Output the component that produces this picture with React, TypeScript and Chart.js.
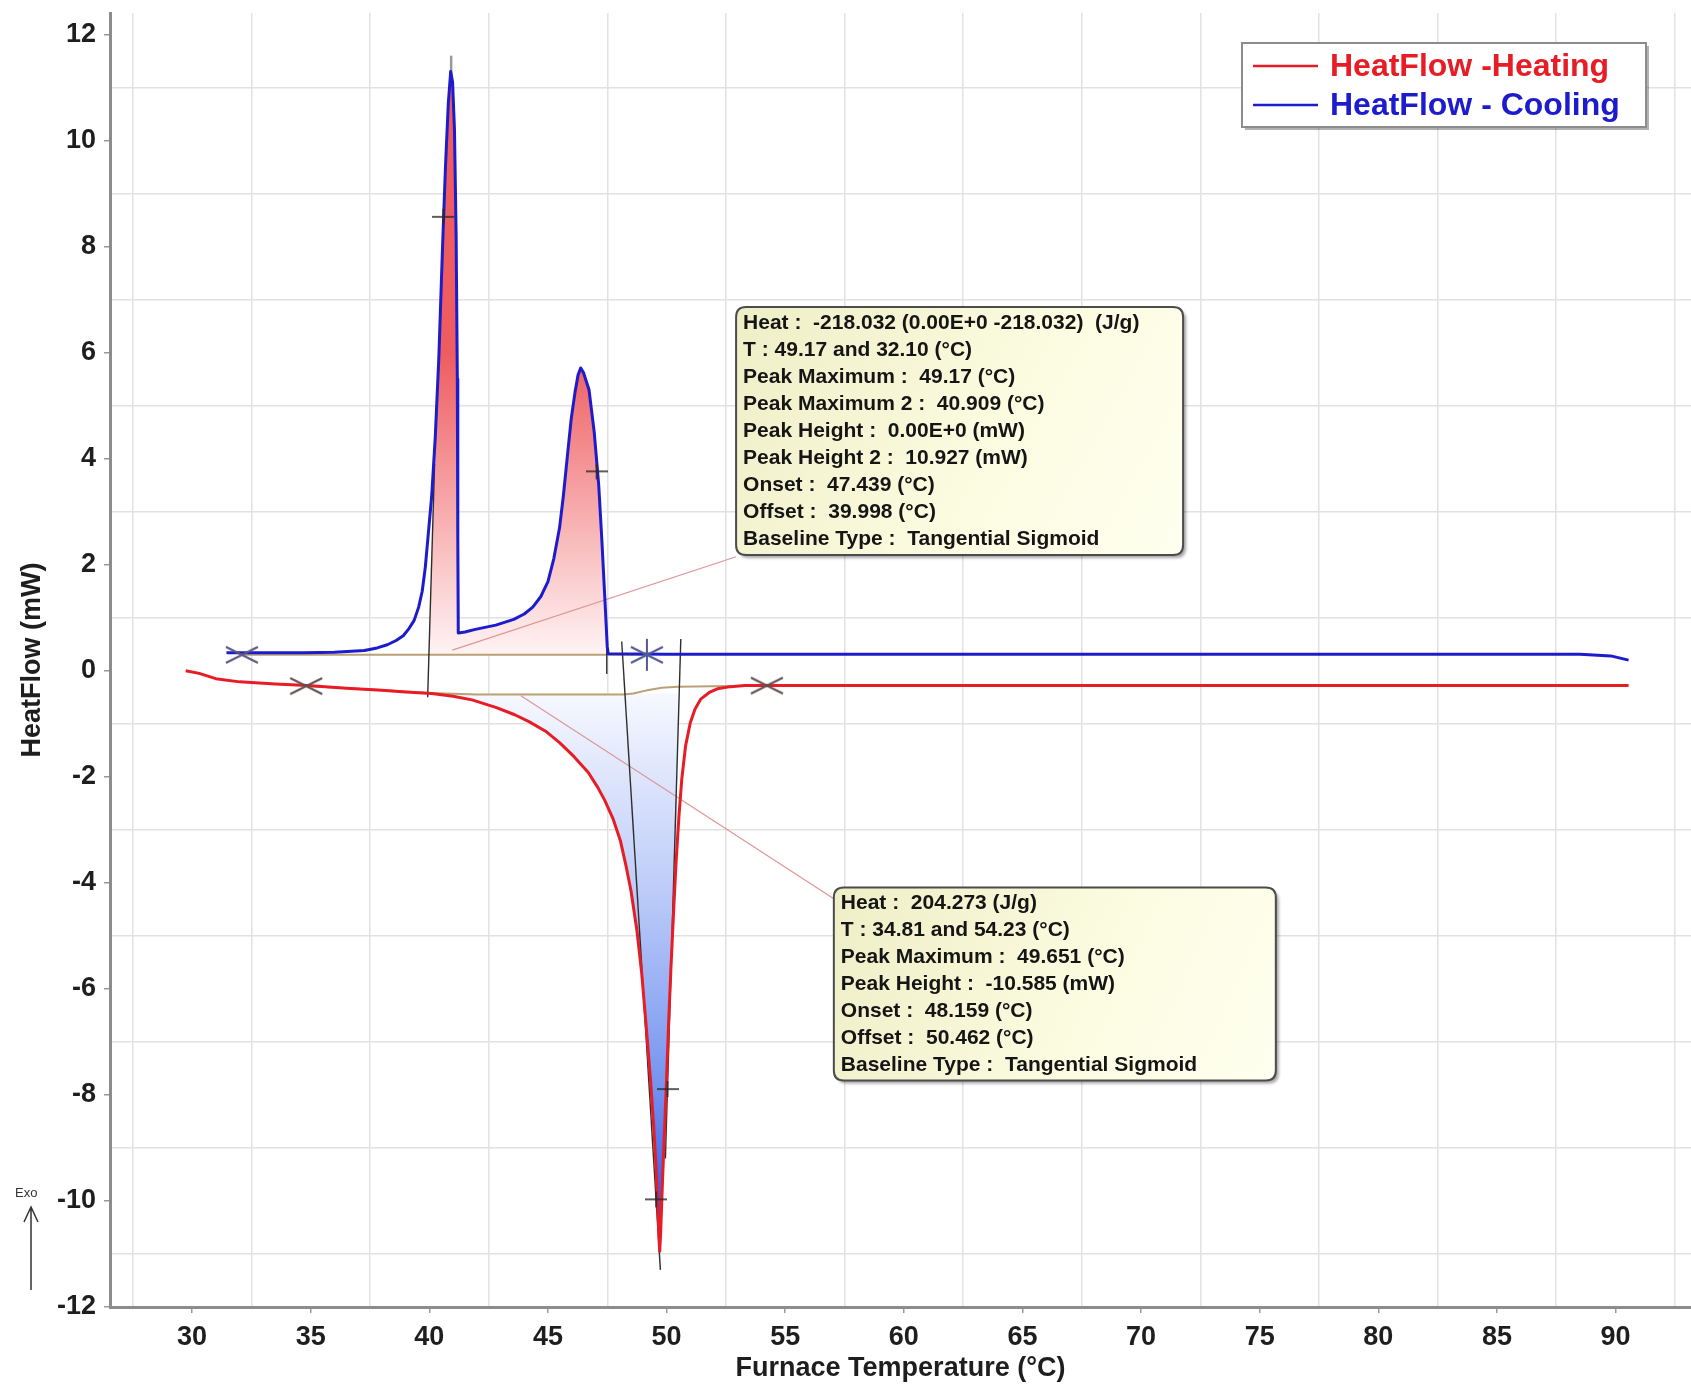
import React, { useEffect, useRef } from 'react';
import { Chart, registerables } from 'chart.js';

Chart.register(...registerables);

// ---------------- data ----------------
const X_LABEL_TICKS = [30, 35, 40, 45, 50, 55, 60, 65, 70, 75, 80, 85, 90];
const X_GRID_TICKS = [27.5, 32.5, 37.5, 42.5, 47.5, 52.5, 57.5, 62.5, 67.5, 72.5, 77.5, 82.5, 87.5, 92.5];
const Y_LABEL_TICKS = [-12, -10, -8, -6, -4, -2, 0, 2, 4, 6, 8, 10, 12];
const Y_GRID_TICKS = [-11, -9, -7, -5, -3, -1, 1, 3, 5, 7, 9, 11];
const X_RANGE = [26.54, 93.18];
const Y_RANGE = [-12, 12.405];

const X_TITLE = 'Furnace Temperature (°C)';
const Y_TITLE = 'HeatFlow (mW)';
const SERIES_LABELS = ['HeatFlow -Heating', 'HeatFlow - Cooling'];

const HEATING: [number, number][] = [
  [29.73, 0.0], [30.3, -0.05], [31.0, -0.15], [32.0, -0.21], [33.5, -0.25], [34.86, -0.28],
  [36.5, -0.33], [38.0, -0.37], [39.0, -0.4], [40.1, -0.43], [41.0, -0.48], [41.8, -0.55],
  [42.8, -0.69], [43.6, -0.83], [44.2, -0.96], [44.9, -1.14], [45.5, -1.36], [46.1, -1.62],
  [46.7, -1.92], [47.1, -2.2], [47.4, -2.45], [47.75, -2.8], [48.05, -3.2], [48.3, -3.7],
  [48.5, -4.15], [48.75, -4.9], [48.95, -5.7], [49.15, -6.75], [49.32, -7.7], [49.45, -8.55],
  [49.55, -9.3], [49.62, -10.0], [49.68, -10.7], [49.71, -10.95], [49.75, -10.6], [49.82, -9.72],
  [49.91, -8.7], [50.0, -7.69], [50.09, -6.6], [50.18, -5.65], [50.3, -4.5], [50.4, -3.62],
  [50.52, -2.75], [50.64, -2.05], [50.8, -1.42], [51.0, -0.98], [51.2, -0.72], [51.45, -0.53],
  [51.8, -0.41], [52.14, -0.34], [52.7, -0.3], [53.3, -0.28], [60, -0.28], [70, -0.28],
  [80, -0.28], [90.55, -0.28],
];

const COOLING: [number, number][] = [
  [31.45, 0.34], [33, 0.34], [34.7, 0.34], [36, 0.35], [37.26, 0.38], [37.8, 0.43],
  [38.23, 0.49], [38.6, 0.57], [38.9, 0.66], [39.15, 0.8], [39.36, 0.95], [39.55, 1.2],
  [39.7, 1.5], [39.83, 1.95], [39.95, 2.55], [40.1, 3.3], [40.25, 4.4], [40.4, 5.9],
  [40.55, 7.9], [40.68, 9.5], [40.8, 10.7], [40.9, 11.3], [40.98, 11.1], [41.06, 10.2],
  [41.13, 8.2], [41.18, 5.5], [41.2, 2.5], [41.22, 0.71], [41.5, 0.73], [41.94, 0.78],
  [42.8, 0.86], [43.56, 0.97], [44.0, 1.07], [44.36, 1.2], [44.7, 1.4], [45.0, 1.68],
  [45.25, 2.12], [45.49, 2.7], [45.65, 3.3], [45.83, 4.1], [45.98, 4.75], [46.14, 5.25],
  [46.27, 5.58], [46.38, 5.71], [46.5, 5.62], [46.73, 5.3], [46.95, 4.5], [47.14, 3.5],
  [47.27, 2.48], [47.41, 1.26], [47.5, 0.45], [47.54, 0.32], [50, 0.31], [60, 0.31],
  [70, 0.31], [80, 0.31], [88.5, 0.31], [89.8, 0.28], [90.55, 0.2],
];

const HEATING_BASELINE: [number, number][] = [
  [34.81, -0.29], [37, -0.34], [40, -0.42], [42, -0.45], [48.16, -0.45], [48.6, -0.43],
  [49.17, -0.37], [49.8, -0.32], [50.46, -0.3], [54.23, -0.28],
];
const COOLING_BASELINE: [number, number][] = [[32.1, 0.3], [49.17, 0.3]];

const TANGENT_LINES: [number, number][][] = [
  [[39.93, -0.5], [40.22, 3.9]],
  [[47.48, 0.55], [47.48, -0.05]],
  [[48.11, 0.55], [49.74, -11.3]],
  [[50.6, 0.6], [49.95, -9.2]],
];
const PEAK_TIP: [number, number][] = [[40.92, 11.15], [40.92, 11.6]];
const LEADER_LINES: [number, number][][] = [
  [[40.97, 0.39], [52.93, 2.15]],
  [[43.86, -0.47], [57.05, -4.3]],
];

const LIMIT_MARKS_COOLING: [number, number][] = [[32.1, 0.3]];
const LIMIT_MARKS_HEATING: [number, number][] = [[34.81, -0.29], [54.23, -0.28]];
const PEAK_MARK: [number, number][] = [[49.17, 0.3]];
const CROSS_MARKS: [number, number][] = [[40.59, 8.56], [47.05, 3.76], [49.56, -9.97], [50.04, -7.89]];

const COOLING_FILL_EDGES: [number, number][] = [[40.0, 0.3], [47.54, 0.3]];
const HEATING_FILL_EDGES: [number, number][] = [[40.1, -0.43], [50.5, -0.3]];

const COOLING_BOX_ANCHOR = [52.93, 6.86];
const HEATING_BOX_ANCHOR = [57.05, -4.09];
const COOLING_BOX_LINES = [
  'Heat :  -218.032 (0.00E+0 -218.032)  (J/g)',
  'T : 49.17 and 32.10 (°C)',
  'Peak Maximum :  49.17 (°C)',
  'Peak Maximum 2 :  40.909 (°C)',
  'Peak Height :  0.00E+0 (mW)',
  'Peak Height 2 :  10.927 (mW)',
  'Onset :  47.439 (°C)',
  'Offset :  39.998 (°C)',
  'Baseline Type :  Tangential Sigmoid',
];
const HEATING_BOX_LINES = [
  'Heat :  204.273 (J/g)',
  'T : 34.81 and 54.23 (°C)',
  'Peak Maximum :  49.651 (°C)',
  'Peak Height :  -10.585 (mW)',
  'Onset :  48.159 (°C)',
  'Offset :  50.462 (°C)',
  'Baseline Type :  Tangential Sigmoid',
];

// ---------------- styles ----------------
const FONT = '"Liberation Sans", Arial, Helvetica, sans-serif';
const RED = 'rgb(232,28,36)';
const BLUE = 'rgb(28,28,205)';
const TAN = 'rgb(186,160,118)';
const W = 1691;
const H = 1386;

const pts = (a: [number, number][]) => a.map(([x, y]) => ({ x, y }));

function lineDs(label: string, data: [number, number][], color: string, width: number, extra: any = {}) {
  return {
    label,
    data: pts(data),
    borderColor: color,
    backgroundColor: color,
    borderWidth: width,
    pointRadius: 0,
    fill: false,
    tension: 0,
    borderJoinStyle: 'round',
    borderCapStyle: 'butt',
    ...extra,
  };
}

function vGradient(chart: any, v0: number, v1: number, stops: [number, string][]) {
  const { ctx, chartArea, scales } = chart;
  if (!chartArea || !scales.y) return stops[stops.length - 1][1];
  const p0 = scales.y.getPixelForValue(v0);
  const p1 = scales.y.getPixelForValue(v1);
  const g = ctx.createLinearGradient(0, p0, 0, p1);
  stops.forEach(([o, c]) => g.addColorStop(o, c));
  return g;
}

function makeMark(kind: 'x' | 'star' | 'plus', color: string) {
  const c = document.createElement('canvas');
  const w = kind === 'plus' ? 22 : 36;
  const h = kind === 'x' ? 20 : kind === 'star' ? 34 : 18;
  c.width = w;
  c.height = h;
  const g = c.getContext('2d')!;
  g.strokeStyle = color;
  g.lineWidth = kind === 'plus' ? 1.6 : 2;
  g.beginPath();
  if (kind === 'x') {
    g.moveTo(2, 2); g.lineTo(w - 2, h - 2);
    g.moveTo(2, h - 2); g.lineTo(w - 2, 2);
  } else if (kind === 'star') {
    g.moveTo(w / 2, 1); g.lineTo(w / 2, h - 1);
    g.moveTo(2, h / 2 - 8); g.lineTo(w - 2, h / 2 + 8);
    g.moveTo(2, h / 2 + 8); g.lineTo(w - 2, h / 2 - 8);
  } else {
    g.moveTo(0, h / 2); g.lineTo(w, h / 2);
    g.moveTo(w / 2, 1); g.lineTo(w / 2, h - 1);
  }
  g.stroke();
  return c;
}

function roundRect(ctx: CanvasRenderingContext2D, x: number, y: number, w: number, h: number, r: number) {
  ctx.beginPath();
  ctx.moveTo(x + r, y);
  ctx.lineTo(x + w - r, y);
  ctx.quadraticCurveTo(x + w, y, x + w, y + r);
  ctx.lineTo(x + w, y + h - r);
  ctx.quadraticCurveTo(x + w, y + h, x + w - r, y + h);
  ctx.lineTo(x + r, y + h);
  ctx.quadraticCurveTo(x, y + h, x, y + h - r);
  ctx.lineTo(x, y + r);
  ctx.quadraticCurveTo(x, y, x + r, y);
  ctx.closePath();
}

function drawInfoBox(ctx: CanvasRenderingContext2D, x: number, y: number, w: number, h: number, lines: string[]) {
  ctx.save();
  ctx.shadowColor = 'rgba(0,0,0,0.35)';
  ctx.shadowOffsetX = 3;
  ctx.shadowOffsetY = 3;
  ctx.shadowBlur = 3;
  roundRect(ctx, x, y, w, h, 10);
  const g = ctx.createLinearGradient(x, y, x + w, y + h);
  g.addColorStop(0, 'rgb(238,238,198)');
  g.addColorStop(0.6, 'rgb(252,252,226)');
  g.addColorStop(1, 'rgb(255,255,240)');
  ctx.fillStyle = g;
  ctx.fill();
  ctx.shadowColor = 'rgba(0,0,0,0)';
  ctx.lineWidth = 2;
  ctx.strokeStyle = '#4c4c4c';
  ctx.stroke();
  ctx.fillStyle = '#151515';
  ctx.font = `bold 21px ${FONT}`;
  ctx.textBaseline = 'middle';
  ctx.textAlign = 'left';
  lines.forEach((t, i) => ctx.fillText(t, x + 7, y + 16 + i * 27));
  ctx.restore();
}

const overlayPlugin = {
  id: 'overlay',
  afterDraw(chart: any) {
    const { ctx, scales, chartArea } = chart;
    const xs = scales.x;
    const ys = scales.y;
    // info boxes
    drawInfoBox(ctx, xs.getPixelForValue(COOLING_BOX_ANCHOR[0]), ys.getPixelForValue(COOLING_BOX_ANCHOR[1]), 447, 248, COOLING_BOX_LINES);
    drawInfoBox(ctx, xs.getPixelForValue(HEATING_BOX_ANCHOR[0]), ys.getPixelForValue(HEATING_BOX_ANCHOR[1]), 442, 193, HEATING_BOX_LINES);

    // legend
    const lw = 404, lh = 84;
    const lx = chartArea.right - 45 - lw;
    const ly = chartArea.top + 30;
    ctx.save();
    ctx.fillStyle = 'rgba(0,0,0,0.3)';
    ctx.fillRect(lx + 3, ly + 3, lw, lh);
    ctx.fillStyle = '#ffffff';
    ctx.fillRect(lx, ly, lw, lh);
    ctx.strokeStyle = '#8c8c8c';
    ctx.lineWidth = 2;
    ctx.strokeRect(lx, ly, lw, lh);
    const items = [
      { label: chart.data.datasets[5].label, color: chart.data.datasets[5].borderColor, y: ly + 23 },
      { label: chart.data.datasets[4].label, color: chart.data.datasets[4].borderColor, y: ly + 62 },
    ];
    ctx.font = `bold 32px ${FONT}`;
    ctx.textBaseline = 'middle';
    items.forEach((it) => {
      ctx.strokeStyle = it.color;
      ctx.lineWidth = 2.5;
      ctx.beginPath();
      ctx.moveTo(lx + 11, it.y);
      ctx.lineTo(lx + 76, it.y);
      ctx.stroke();
      ctx.fillStyle = it.color;
      ctx.fillText(it.label, lx + 88, it.y + 1);
    });
    ctx.restore();

    // Exo arrow
    ctx.save();
    ctx.fillStyle = '#333';
    ctx.font = `13px ${FONT}`;
    ctx.textBaseline = 'middle';
    ctx.fillText('Exo', 15, 1193);
    ctx.strokeStyle = '#333';
    ctx.lineWidth = 1.5;
    ctx.beginPath();
    ctx.moveTo(31, 1290);
    ctx.lineTo(31, 1207);
    ctx.moveTo(24, 1222);
    ctx.lineTo(31, 1207);
    ctx.lineTo(38, 1222);
    ctx.stroke();
    ctx.restore();
  },
};

const zeroPadding = (s: any) => {
  s.paddingTop = 0;
  s.paddingBottom = 0;
  s.paddingLeft = 0;
  s.paddingRight = 0;
};

export default function App() {
  const ref = useRef<HTMLCanvasElement | null>(null);

  useEffect(() => {
    document.body.style.margin = '0';
    const canvas = ref.current;
    if (!canvas) return;

    const markX_blue = makeMark('x', 'rgb(90,90,130)');
    const markX_red = makeMark('x', 'rgb(100,80,80)');
    const markStar = makeMark('star', 'rgb(80,90,150)');
    const markPlus = makeMark('plus', '#2a2a2a');

    const markDs = (label: string, data: [number, number][], style: any) => ({
      label,
      data: pts(data),
      showLine: false,
      pointRadius: 6,
      pointHoverRadius: 6,
      pointStyle: style,
      borderColor: '#333',
      backgroundColor: '#333',
    });

    const coolingFill = [COOLING_FILL_EDGES[0], ...COOLING.filter(([x]) => x >= 40.2 && x <= 47.5), COOLING_FILL_EDGES[1]];
    const heatingFill = [HEATING_FILL_EDGES[0], ...HEATING.filter(([x]) => x > 40.1 && x < 50.5), HEATING_FILL_EDGES[1]];

    const datasets: any[] = [
      markDs('cross', CROSS_MARKS, markPlus),
      markDs('peak', PEAK_MARK, markStar),
      markDs('limits cooling', LIMIT_MARKS_COOLING, markX_blue),
      markDs('limits heating', LIMIT_MARKS_HEATING, markX_red),
      lineDs(SERIES_LABELS[1], COOLING, BLUE, 3),
      lineDs(SERIES_LABELS[0], HEATING, RED, 3),
      ...TANGENT_LINES.map((l, i) => lineDs('tangent ' + i, l, '#2e2e2e', 1.4)),
      lineDs('peak tip', PEAK_TIP, '#9a9a9a', 2.5),
      lineDs('cooling baseline', COOLING_BASELINE, TAN, 2),
      lineDs('heating baseline', HEATING_BASELINE, TAN, 2),
      ...LEADER_LINES.map((l, i) => lineDs('leader ' + i, l, 'rgb(222,150,150)', 1.2)),
      lineDs('heating fill', heatingFill, 'rgba(0,0,0,0)', 0, {
        fill: { value: -0.43 },
        backgroundColor: (c: any) =>
          vGradient(c.chart, -0.45, -10.8, [
            [0, 'rgb(246,248,255)'],
            [0.35, 'rgb(190,205,248)'],
            [0.7, 'rgb(120,150,240)'],
            [1, 'rgb(40,72,228)'],
          ]),
      }),
      lineDs('cooling fill', coolingFill, 'rgba(0,0,0,0)', 0, {
        fill: { value: 0.3 },
        backgroundColor: (c: any) =>
          vGradient(c.chart, 6.0, 0.3, [
            [0, 'rgb(238,92,96)'],
            [0.45, 'rgb(246,160,162)'],
            [1, 'rgb(255,244,244)'],
          ]),
      }),
    ];

    const tickFont = { family: FONT, size: 27, weight: 'bold' as const };

    const chart = new Chart(canvas, {
      type: 'line',
      data: { datasets },
      options: {
        animation: false,
        responsive: false,
        maintainAspectRatio: false,
        devicePixelRatio: 1,
        events: [],
        layout: { autoPadding: false, padding: { top: 13, right: 0, left: 0, bottom: 0 } },
        plugins: {
          legend: { display: false },
          tooltip: { enabled: false },
          title: { display: false },
        },
        scales: {
          x: {
            type: 'linear',
            min: X_RANGE[0],
            max: X_RANGE[1],
            afterBuildTicks: (s: any) => {
              s.ticks = [...X_GRID_TICKS, ...X_LABEL_TICKS].sort((a, b) => a - b).map((v) => ({ value: v }));
            },
            afterFit: (s: any) => {
              s.height = 79;
              zeroPadding(s);
            },
            ticks: {
              autoSkip: false,
              maxRotation: 0,
              minRotation: 0,
              padding: 8,
              color: '#1e1e1e',
              font: tickFont,
              callback: (v: any) => (X_LABEL_TICKS.includes(Number(v)) ? String(v) : ''),
            },
            grid: {
              drawOnChartArea: true,
              drawTicks: true,
              tickLength: 6,
              lineWidth: 1.5,
              color: (c: any) => (X_GRID_TICKS.includes(c.tick?.value) ? 'rgb(226,226,226)' : 'rgba(0,0,0,0)'),
              tickColor: (c: any) => (X_LABEL_TICKS.includes(c.tick?.value) ? '#9a9a9a' : 'rgba(0,0,0,0)'),
            },
            border: { display: true, color: '#8c8c8c', width: 3 },
            title: {
              display: true,
              text: X_TITLE,
              color: '#1e1e1e',
              font: tickFont,
              padding: { top: 0, bottom: 1 },
            },
          },
          y: {
            type: 'linear',
            min: Y_RANGE[0],
            max: Y_RANGE[1],
            afterBuildTicks: (s: any) => {
              s.ticks = [...Y_GRID_TICKS, ...Y_LABEL_TICKS].sort((a, b) => a - b).map((v) => ({ value: v }));
            },
            afterFit: (s: any) => {
              s.width = 110;
              zeroPadding(s);
            },
            ticks: {
              autoSkip: false,
              padding: 8,
              color: '#1e1e1e',
              font: tickFont,
              callback: (v: any) => (Y_LABEL_TICKS.includes(Number(v)) ? String(v) : ''),
            },
            grid: {
              drawOnChartArea: true,
              drawTicks: true,
              tickLength: 6,
              lineWidth: 1.5,
              color: (c: any) => (Y_GRID_TICKS.includes(c.tick?.value) ? 'rgb(226,226,226)' : 'rgba(0,0,0,0)'),
              tickColor: (c: any) => (Y_LABEL_TICKS.includes(c.tick?.value) ? '#9a9a9a' : 'rgba(0,0,0,0)'),
            },
            border: { display: true, color: '#8c8c8c', width: 3 },
            title: {
              display: true,
              text: Y_TITLE,
              color: '#1e1e1e',
              font: tickFont,
              padding: { top: 16, bottom: 0 },
            },
          },
        },
      },
      plugins: [overlayPlugin],
    } as any);

    return () => chart.destroy();
  }, []);

  return (
    <div style={{ position: 'absolute', left: 0, top: 0, width: W, height: H, background: '#ffffff' }}>
      <canvas ref={ref} width={W} height={H} style={{ display: 'block', width: W, height: H }} />
    </div>
  );
}
